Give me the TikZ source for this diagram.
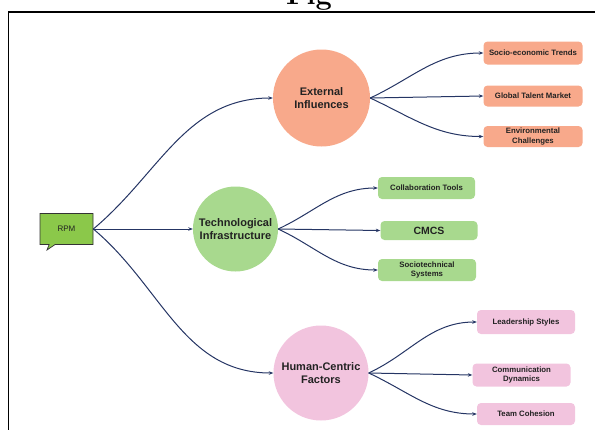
\documentclass[tikz,border=0pt]{standalone}
\usepackage{fontspec}
\setsansfont{Liberation Sans}
\usetikzlibrary{arrows.meta,shapes.callouts}
\definecolor{salmon}{HTML}{F8A98B}
\definecolor{lgreen}{HTML}{A8D98E}
\definecolor{lpink}{HTML}{F2C4DE}
\definecolor{rpmgreen}{HTML}{8BC84A}
\definecolor{navy}{HTML}{253564}
\definecolor{txt}{HTML}{222222}
\tikzset{
  x=1pt,y=1pt,
  hub/.style={circle,inner sep=0pt,minimum size=#1,align=center,text=txt,font=\sffamily\fontsize{11}{13.5}\selectfont\bfseries},
  leaf/.style={rounded corners=4pt,inner sep=0pt,align=center,text=txt,font=\sffamily\fontsize{7.8}{9.5}\selectfont\bfseries},
  conn/.style={draw=navy,line width=1pt,-{Stealth[length=4.5pt,width=3.5pt]}}
}
\begin{document}
\begin{tikzpicture}
\useasboundingbox (0,0) rectangle (595,-429);
% caption and frame
\node[anchor=base,font=\rmfamily\bfseries\fontsize{29}{30}\selectfont,inner sep=0pt] (fig) at (309,-4.5) {Fig};
\coordinate (fbl) at (8.5,-430);
\coordinate (ftl) at (8.5,-12);
\coordinate (ftr) at (596,-12);
\draw[line width=1.6pt] (fbl) -- (ftl) -- (ftr);
% root
\node[rectangle callout,callout absolute pointer={(47,-250)},callout pointer width=6pt,
  fill=rpmgreen,draw=black!80,line width=0.7pt,minimum width=53pt,minimum height=31pt,inner sep=0pt,
  font=\sffamily\fontsize{8}{9}\selectfont,text=txt] (rpm) at (66.5,-229) {RPM};
% hubs
\node[hub=97pt,fill=salmon] (ext) at (321.5,-98) {External\\Influences};
\node[hub=85pt,fill=lgreen] (tech) at (235.5,-229) {Technological\\Infrastructure};
\node[hub=95pt,fill=lpink] (hum) at (321,-373) {Human-Centric\\Factors};
% leaves
\node[leaf,fill=salmon,minimum width=99pt,minimum height=23pt] (soc) at (533,-53) {Socio-economic Trends};
\node[leaf,fill=salmon,minimum width=99pt,minimum height=21pt] (gtm) at (533,-96) {Global Talent Market};
\node[leaf,fill=salmon,minimum width=99pt,minimum height=21pt] (env) at (533,-136.5) {Environmental\\Challenges};
\node[leaf,fill=lgreen,minimum width=97pt,minimum height=22pt] (col) at (426.5,-188) {Collaboration Tools};
\node[leaf,fill=lgreen,minimum width=97pt,minimum height=19pt,font=\sffamily\fontsize{10.5}{12}\selectfont\bfseries] (cmcs) at (429,-230.5) {CMCS};
\node[leaf,fill=lgreen,minimum width=98pt,minimum height=22pt] (soct) at (427,-270) {Sociotechnical\\Systems};
\node[leaf,fill=lpink,minimum width=98pt,minimum height=24pt] (lead) at (526,-322) {Leadership Styles};
\node[leaf,fill=lpink,minimum width=98pt,minimum height=23pt] (comm) at (521.5,-375) {Communication\\Dynamics};
\node[leaf,fill=lpink,minimum width=98pt,minimum height=22pt] (team) at (526,-414) {Team Cohesion};
% connectors
\draw[conn] (rpm.east) to[out=40,in=180] (ext.west);
\draw[conn] (rpm.east) -- (tech.west);
\draw[conn] (rpm.east) to[out=-40,in=180] (hum.west);
\draw[conn] (ext.east) to[out=25,in=180] (soc.west);
\draw[conn] (ext.east) -- (gtm.west);
\draw[conn] (ext.east) to[out=-25,in=180] (env.west);
\draw[conn] (tech.east) to[out=25,in=180] (col.west);
\draw[conn] (tech.east) -- (cmcs.west);
\draw[conn] (tech.east) to[out=-25,in=180] (soct.west);
\draw[conn] (hum.east) to[out=25,in=180] (lead.west);
\draw[conn] (hum.east) -- (comm.west);
\draw[conn] (hum.east) to[out=-25,in=180] (team.west);
\end{tikzpicture}
\end{document}
